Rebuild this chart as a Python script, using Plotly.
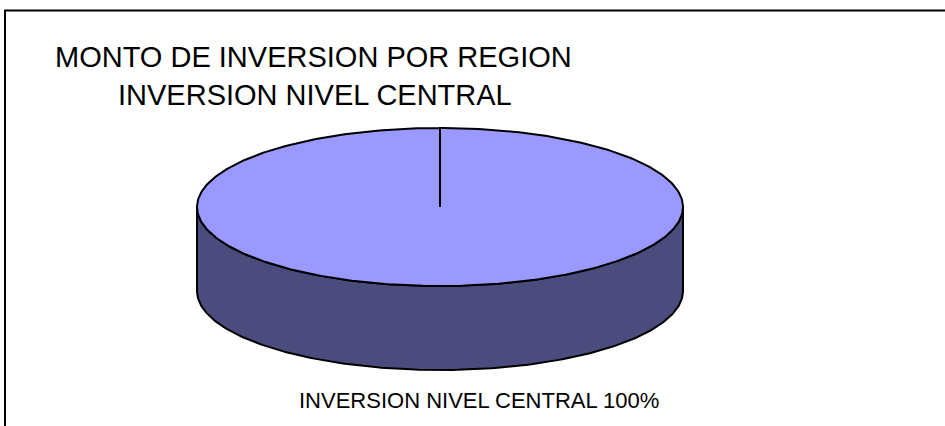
import numpy as np
import plotly.graph_objects as go

# data
labels = ["INVERSION NIVEL CENTRAL"]
values = [100]
top_colors = ["#9999FF"]
side_colors = ["#4B4B7D"]

title_lines = ["MONTO DE INVERSION POR REGION", "INVERSION NIVEL CENTRAL"]

# pie geometry in pixel space
W, H = 945, 426
cx, cy = 440, 207
rx, ry = 243, 79
depth = 84


def pt(theta, dy=0.0):
    return cx + rx * np.cos(theta), cy - ry * np.sin(theta) + dy


fig = go.Figure()

total = sum(values)
start = np.pi / 2
for label, val, tc, sc in zip(labels, values, top_colors, side_colors):
    sweep = 2 * np.pi * val / total
    a0, a1 = start, start - sweep  # clockwise

    # front side wall: part of the arc with sin(theta) < 0
    ang = np.linspace(a0, a1, 400)
    front = ang[np.sin(ang) <= 0.0005]
    if len(front) > 1:
        tx, ty = pt(front)
        bx, by = pt(front[::-1], depth)
        fig.add_trace(go.Scatter(
            x=np.concatenate([tx, bx, tx[:1]]),
            y=np.concatenate([ty, by, ty[:1]]),
            mode="lines", fill="toself", fillcolor=sc,
            line=dict(color="black", width=2),
            hoverinfo="skip", showlegend=False))

    # top face
    ax_, ay_ = pt(ang)
    fig.add_trace(go.Scatter(
        x=np.concatenate([[cx], ax_, [cx]]),
        y=np.concatenate([[cy], ay_, [cy]]),
        mode="lines", fill="toself", fillcolor=tc,
        line=dict(color="black", width=2),
        name=label, hoverinfo="skip", showlegend=False))

    start = a1

    pct = round(100 * val / total)
    fig.add_annotation(x=479, y=400, text=f"{label} {pct}%", showarrow=False,
                       xref="x", yref="y", font=dict(size=22, color="black"))

fig.add_annotation(x=313.5, y=57, text=title_lines[0], showarrow=False,
                   xref="x", yref="y", font=dict(size=29, color="black"))
fig.add_annotation(x=315, y=95, text=title_lines[1], showarrow=False,
                   xref="x", yref="y", font=dict(size=29, color="black"))

# chart border (runs off the right and bottom edges)
fig.add_shape(type="rect", x0=5, y0=10.5, x1=W + 20, y1=H + 20,
              xref="x", yref="y", line=dict(color="black", width=2))

fig.update_xaxes(range=[0, W], visible=False, fixedrange=True)
fig.update_yaxes(range=[H, 0], visible=False, fixedrange=True)
fig.update_layout(
    width=W, height=H,
    margin=dict(l=0, r=0, t=0, b=0),
    paper_bgcolor="white", plot_bgcolor="white",
    font=dict(family="Liberation Sans, Arial, sans-serif"),
)

# drop the default page margin so the figure sits at the window origin
fig.write_html("out.html", config={"displayModeBar": False},
               post_script="document.body.style.margin='0px';")
